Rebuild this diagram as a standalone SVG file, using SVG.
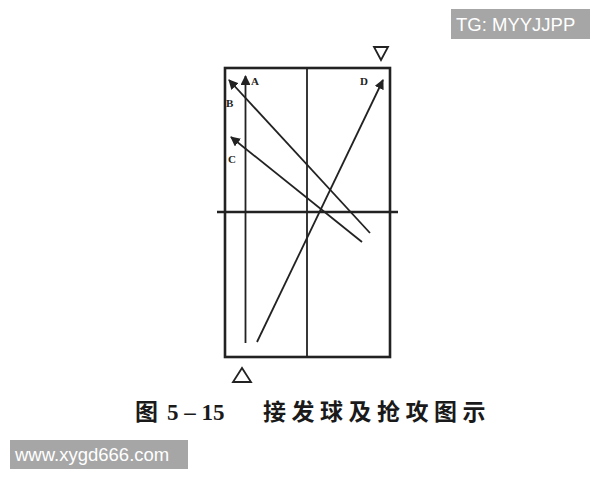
<svg xmlns="http://www.w3.org/2000/svg" width="600" height="480" viewBox="0 0 600 480">
<style>
.ln{stroke:#222;stroke-width:1.8;fill:none}
.lbl{font-family:"Liberation Serif",serif;font-weight:bold;font-size:11px;fill:#222}
.wm{font-family:"Liberation Sans",Arial,sans-serif;font-size:18.5px;fill:#fff}
.cap{font-family:"Liberation Serif","Noto Sans CJK SC",serif;font-weight:bold;font-size:23px;fill:#1a1a1a}
</style>
<defs>
<marker id="ah" viewBox="0 0 10 10" refX="9" refY="5" markerWidth="5.5" markerHeight="5.5" orient="auto" markerUnits="strokeWidth">
<path d="M0,0 L10,5 L0,10 z" fill="#222"/>
</marker>
</defs>
<rect width="600" height="480" fill="#fff"/>
<g id="table">
<rect x="225" y="68" width="165" height="289" fill="none" stroke="#222" stroke-width="2.6"/>
<line class="ln" x1="307" y1="68" x2="307" y2="357" stroke-width="1.5"/>
<line x1="217" y1="212" x2="398" y2="212" stroke="#222" stroke-width="2.6"/>
</g>
<g id="connectors">
<line class="ln" x1="245.5" y1="343" x2="245.5" y2="76" marker-end="url(#ah)"/>
<line class="ln" x1="370" y1="233" x2="229" y2="80" marker-end="url(#ah)"/>
<line class="ln" x1="362" y1="242" x2="231" y2="137" marker-end="url(#ah)"/>
<line class="ln" x1="257" y1="342" x2="383" y2="80" marker-end="url(#ah)"/>
</g>
<g id="labels">
<text class="lbl" x="251" y="85">A</text>
<text class="lbl" x="226" y="107">B</text>
<text class="lbl" x="228" y="163">C</text>
<text class="lbl" x="360" y="85">D</text>
</g>
<g id="markers">
<path d="M374,47 L388,47 L381,60 z" fill="none" stroke="#222" stroke-width="1.8"/>
<path d="M233,382 L251,382 L242,368 z" fill="none" stroke="#222" stroke-width="1.8"/>
</g>
<g id="caption">
<text class="cap" x="135" y="420">图</text>
<text class="cap" x="167" y="420">5 – 15</text>
<text class="cap" x="263" y="420" letter-spacing="5.5">接发球及抢攻图示</text>
</g>
<g id="wm1">
<rect x="451" y="9" width="139" height="30" fill="#a6a6a6"/>
<text class="wm" x="456" y="31">TG: MYYJJPP</text>
</g>
<g id="wm2">
<rect x="10" y="440" width="178" height="29" fill="#a6a6a6"/>
<text class="wm" x="15" y="461">www.xygd666.com</text>
</g>
</svg>
